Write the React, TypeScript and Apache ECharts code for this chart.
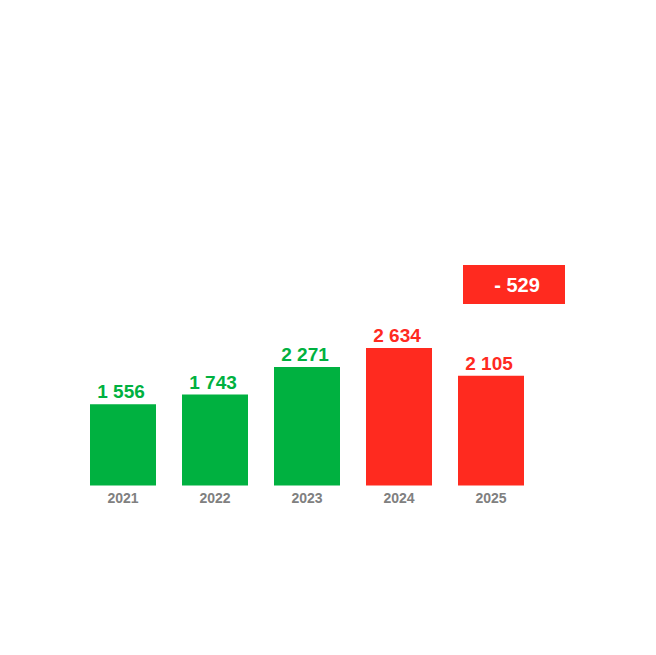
import React, { useEffect, useRef } from "react";
import * as echarts from "echarts";

const years = ["2021", "2022", "2023", "2024", "2025"];
const values = [1556, 1743, 2271, 2634, 2105];
const tones = ["up", "up", "up", "down", "down"];

const GREEN = "#00B140";
const RED = "#FF2A1F";
const FONT = "'Liberation Sans', Arial, sans-serif";

const fmt = (v: number) => String(v).replace(/\B(?=(\d{3})+(?!\d))/g, " ");

export default function App() {
  const ref = useRef<HTMLDivElement>(null);
  useEffect(() => {
    if (!ref.current) return;
    const chart = echarts.init(ref.current, undefined, { renderer: "svg" });
    const diff = values[values.length - 1] - values[values.length - 2];
    const diffText = (diff < 0 ? "- " : "+ ") + fmt(Math.abs(diff));
    chart.setOption({
      animation: false,
      backgroundColor: "#ffffff",
      grid: { left: 77, width: 460, top: 329, bottom: 169.5 },
      xAxis: {
        type: "category",
        data: years,
        axisLine: { show: false },
        axisTick: { show: false },
        axisLabel: {
          color: "#808080",
          fontWeight: "bold",
          fontSize: 14,
          fontFamily: FONT,
          margin: 5,
        },
      },
      yAxis: {
        type: "value",
        min: 0,
        max: 3000,
        show: false,
        splitLine: { show: false },
      },
      series: [
        {
          type: "bar",
          barWidth: 66,
          data: values.map((v, i) => {
            const c = tones[i] === "up" ? GREEN : RED;
            return {
              value: v,
              itemStyle: { color: c },
              label: { color: c },
            };
          }),
          label: {
            show: true,
            position: "top",
            distance: 3,
            offset: [-2, 0],
            fontSize: 19,
            fontWeight: "bold",
            fontFamily: FONT,
            formatter: (p: any) => fmt(p.value),
          },
        },
      ],
      graphic: [
        {
          type: "group",
          left: 463,
          top: 265,
          children: [
            {
              type: "rect",
              shape: { x: 0, y: 0, width: 102, height: 39 },
              style: { fill: RED },
            },
            {
              type: "text",
              x: 54,
              y: 20,
              style: {
                text: diffText,
                fill: "#ffffff",
                font: `bold 20px ${FONT}`,
                textAlign: "center",
                textVerticalAlign: "middle",
              },
            },
          ],
        },
      ],
    });
    return () => chart.dispose();
  }, []);
  return (
    <div
      ref={ref}
      style={{ position: "fixed", left: 0, top: 0, width: 656, height: 655 }}
    />
  );
}
